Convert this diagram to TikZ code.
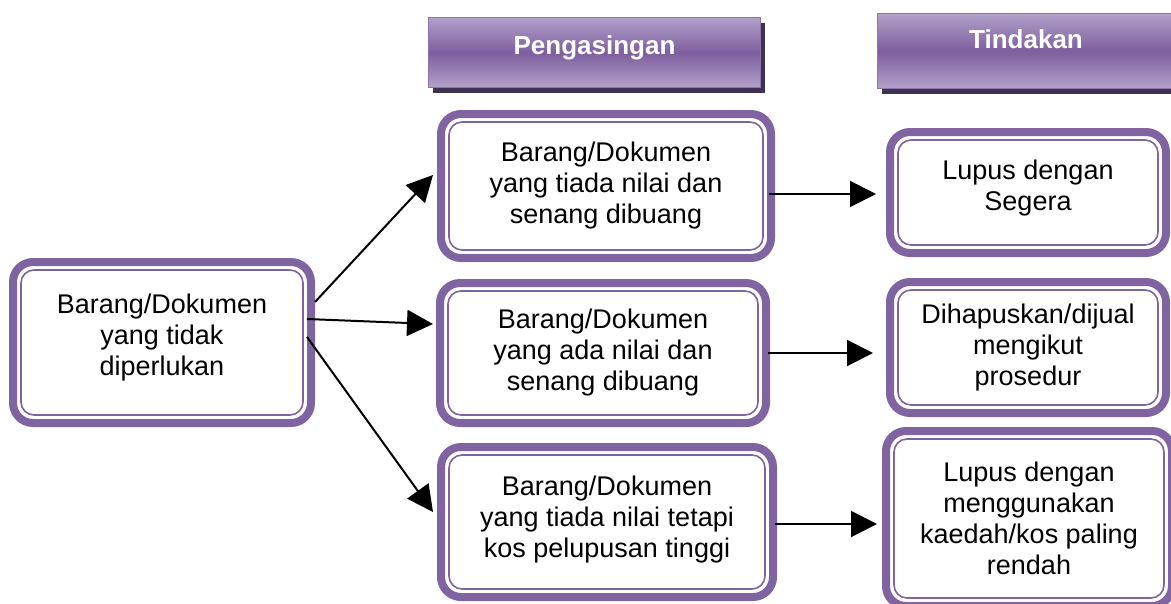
\documentclass[tikz,border=0pt]{standalone}
\usepackage{fontspec}
\setmainfont{Liberation Sans}
\usetikzlibrary{arrows.meta,shadows}

\definecolor{boxpurple}{HTML}{8064A2}
\definecolor{hdrlight}{HTML}{B2A1C9}
\definecolor{hdrmid}{HTML}{7D5E9E}
\definecolor{hdrborder}{HTML}{8E74AF}
\definecolor{hdrshadow}{HTML}{3F3151}

% invisible strut that deepens the last line, lifting the text block
\newcommand\dropdepth[1]{\rule[-#1]{0pt}{#1}}

\begin{document}
\begin{tikzpicture}[x=1pt,y=-1pt,
  every node/.style={font=\fontsize{27}{31}\selectfont, align=center, inner sep=0pt},
  stepbox/.style={draw=boxpurple, line width=8pt, rounded corners=20pt, fill=white,
    path picture={\draw[draw=boxpurple, line width=1.6pt, rounded corners=13pt]
      ([shift={(8pt,-8pt)}]path picture bounding box.north west) rectangle
      ([shift={(-8pt,8pt)}]path picture bounding box.south east);}},
  header/.style={draw=hdrborder, line width=1.2pt,
    top color=hdrlight, bottom color=hdrlight, middle color=hdrmid,
    text=white, font=\bfseries\fontsize{26}{30}\selectfont,
    drop shadow={shadow xshift=4pt, shadow yshift=-5pt, fill=hdrshadow, opacity=1}},
  link/.style={draw=black, line width=2pt, -{Triangle[length=26pt,width=26pt]}}
]
\useasboundingbox (0,0) rectangle (1171,603);

% column headers
\node[header, minimum width=332pt, minimum height=70pt] (hsort) at (594.5,52.5)
  {Pengasingan\dropdepth{15pt}};
\node[header, minimum width=297pt, minimum height=75pt] (hact) at (1026,51)
  {Tindakan\dropdepth{24pt}};

% source
\node[stepbox, minimum width=298pt, minimum height=161pt] (src) at (162,342.5)
  {Barang/Dokumen\\yang tidak\\diperlukan\dropdepth{15pt}};

% sorting categories
\node[stepbox, minimum width=330pt, minimum height=144pt] (sortA) at (606,186)
  {Barang/Dokumen\\yang tiada nilai dan\\senang dibuang};
\node[stepbox, minimum width=326pt, minimum height=140pt] (sortB) at (603,353)
  {Barang/Dokumen\\yang ada nilai dan\\senang dibuang};
\node[stepbox, minimum width=332pt, minimum height=150pt] (sortC) at (607,522)
  {Barang/Dokumen\\yang tiada nilai tetapi\\kos pelupusan tinggi\dropdepth{10pt}};

% actions
\node[stepbox, minimum width=276pt, minimum height=121pt] (act1) at (1028,192.5)
  {Lupus dengan\\Segera\dropdepth{15pt}};
\node[stepbox, minimum width=276pt, minimum height=131pt] (act2) at (1028,347.5)
  {Dihapuskan/dijual\\mengikut\\prosedur};
\node[stepbox, minimum width=286pt, minimum height=175pt] (act3) at (1029,518.5)
  {Lupus dengan\\menggunakan\\kaedah/kos paling\\rendah};

% connectors
\draw[link] ([yshift=40.5pt]src.east) -- ([xshift=-4pt,yshift=11pt]sortA.west);
\draw[link] ([xshift=-8pt,yshift=23.5pt]src.east) -- ([xshift=-3pt,yshift=29pt]sortB.west);
\draw[link] ([xshift=-8pt,yshift=5.5pt]src.east) -- ([xshift=-4pt,yshift=10pt]sortC.west);

\draw[link] ([xshift=-6pt,yshift=-8pt]sortA.east) -- ([xshift=-10pt,yshift=-1.5pt]act1.west);
\draw[link] ([xshift=-2pt]sortB.east) -- ([xshift=-13pt,yshift=-5.5pt]act2.west);
\draw[link] ([xshift=-2pt,yshift=-2pt]sortC.east) -- ([xshift=-5pt,yshift=-5.5pt]act3.west);
\end{tikzpicture}
\end{document}
